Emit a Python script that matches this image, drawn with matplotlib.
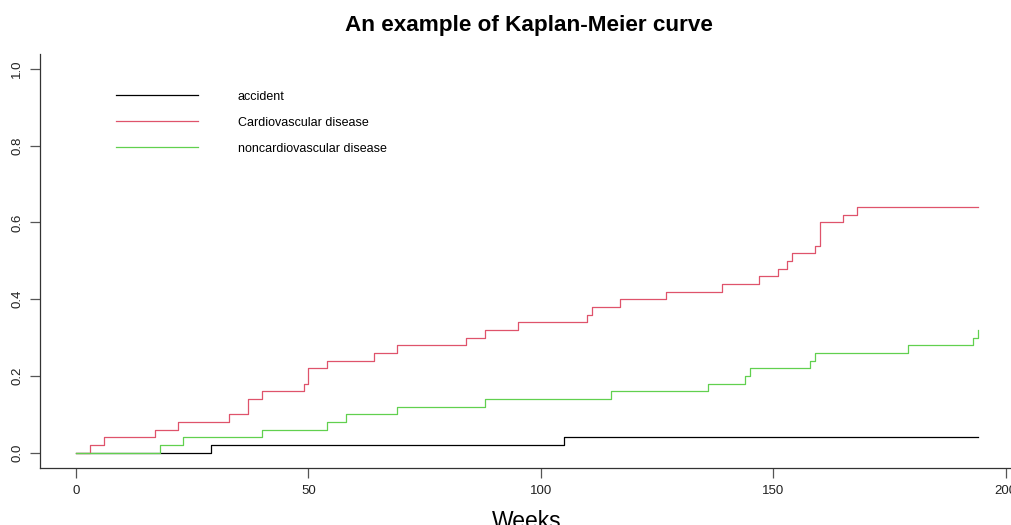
import matplotlib.pyplot as plt

plt.rcParams['font.family'] = ['Liberation Sans', 'DejaVu Sans']

# cumulative incidence by cause, event weeks and levels after each jump
accident_weeks = [0, 29, 105, 194]
accident_ci = [0.00, 0.02, 0.04, 0.04]

cardio_weeks = [0, 3, 6, 17, 22, 33, 37, 40, 49, 50, 54, 64, 69, 84, 88, 95,
                110, 111, 117, 127, 139, 147, 151, 153, 154, 159, 160, 165, 168, 194]
cardio_ci = [0.00, 0.02, 0.04, 0.06, 0.08, 0.10, 0.14, 0.16, 0.18, 0.22, 0.24,
             0.26, 0.28, 0.30, 0.32, 0.34, 0.36, 0.38, 0.40, 0.42, 0.44, 0.46,
             0.48, 0.50, 0.52, 0.54, 0.60, 0.62, 0.64, 0.64]

noncardio_weeks = [0, 18, 23, 40, 54, 58, 69, 88, 115, 136, 144, 145, 158, 159,
                   179, 193, 194]
noncardio_ci = [0.00, 0.02, 0.04, 0.06, 0.08, 0.10, 0.12, 0.14, 0.16, 0.18,
                0.20, 0.22, 0.24, 0.26, 0.28, 0.30, 0.32]

labels = ['accident', 'Cardiovascular disease', 'noncardiovascular disease']
colors = ['black', '#DF536B', '#61D04F']

x_ticks = [0, 50, 100, 150, 200]
y_ticks = [0.0, 0.2, 0.4, 0.6, 0.8, 1.0]

fig = plt.figure(figsize=(10.11, 5.25), dpi=100)
W, H = 1011, 525
# plot region in pixels (runs a bit past the right edge)
left, right, top, bottom = 40, 1014, 53.7, 468
ax = fig.add_axes([left / W, 1 - bottom / H, (right - left) / W, (bottom - top) / H])

series = [(accident_weeks, accident_ci), (cardio_weeks, cardio_ci),
          (noncardio_weeks, noncardio_ci)]
for (wk, ci), lab, col in zip(series, labels, colors):
    ax.step(wk, ci, where='post', color=col, lw=0.9, label=lab)

ax.set_xlim(-7.76, 201.8)
ax.set_ylim(-0.04, 1.04)
ax.set_xticks(x_ticks)
ax.set_xticklabels([str(t) for t in x_ticks])
ax.set_yticks(y_ticks)
ax.set_yticklabels(['%.1f' % t for t in y_ticks], rotation=90, va='center')

for side in ['top', 'right']:
    ax.spines[side].set_visible(False)
for side in ['left', 'bottom']:
    ax.spines[side].set_color('#333333')
    ax.spines[side].set_linewidth(0.9)
ax.tick_params(direction='out', length=7, width=0.9, color='#555555',
               labelsize=9.5, labelcolor='#222222', pad=5)

ax.set_xlabel('Weeks', fontsize=16.5, labelpad=9.5)
fig.text(529 / W, 1 - 25.5 / H, 'An example of Kaplan-Meier curve',
         fontsize=16.2, fontweight='bold', ha='center', va='center')

ax.legend(loc='upper left', bbox_to_anchor=(0.078, 0.911), frameon=False,
          fontsize=9, handlelength=6.58, handletextpad=3.15,
          labelspacing=1.12, borderpad=0, borderaxespad=0)

fig.savefig('out.png', dpi=100)
